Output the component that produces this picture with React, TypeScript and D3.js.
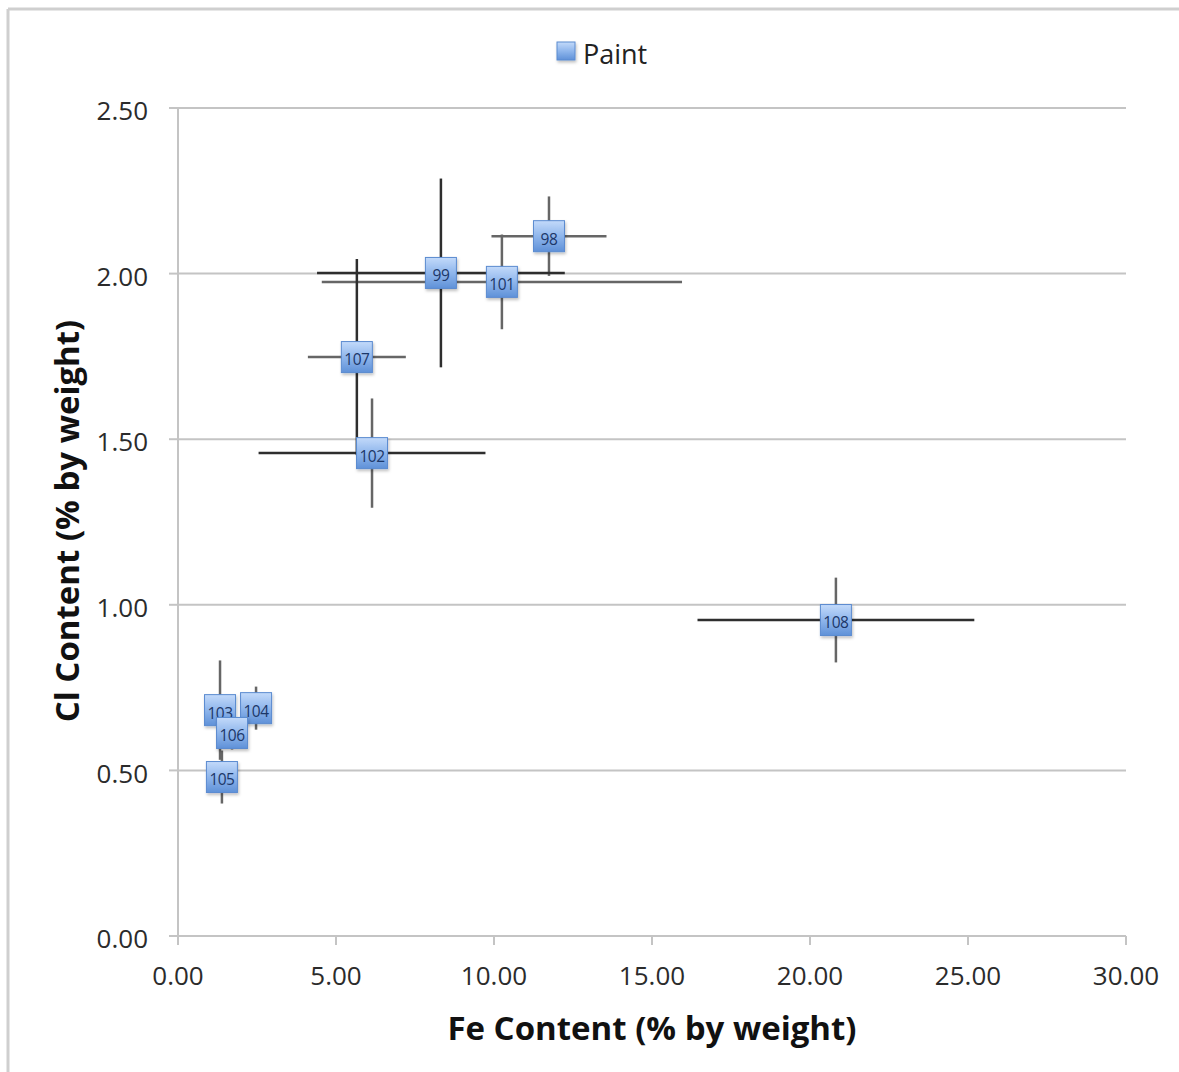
import React from "react";
import * as d3 from "d3";

const labels = ["98", "99", "101", "102", "103", "104", "105", "106", "107", "108"];
const feValues = [11.74, 8.32, 10.25, 6.14, 1.33, 2.47, 1.39, 1.71, 5.66, 20.82];
const clValues = [2.113, 2.002, 1.975, 1.458, 0.682, 0.688, 0.48, 0.613, 1.748, 0.954];
const feErrors = [1.82, 3.92, 5.7, 3.59, 0.3, 0.2, 0.3, 0.2, 1.55, 4.38];
const clErrors = [0.12, 0.285, 0.143, 0.165, 0.15, 0.065, 0.08, 0.05, 0.296, 0.128];
const xTicks = [0, 5, 10, 15, 20, 25, 30];
const yTicks = [0, 0.5, 1.0, 1.5, 2.0, 2.5];
const seriesName = "Paint";
const xTitle = "Fe Content (% by weight)";
const yTitle = "Cl Content (% by weight)";

// style: which bars are drawn darker
const darkX = new Set(["99", "102", "108"]);
const darkY = new Set(["99", "107"]);

const W = 1179;
const H = 1072;
const FONT = "'Open Sans', 'Noto Sans', sans-serif";

export default function App() {
  const x = d3.scaleLinear().domain([0, 30]).range([178, 1126]);
  const y = d3.scaleLinear().domain([0, 2.5]).range([936, 108]);
  const points = labels.map((l, i) => ({
    label: l,
    fe: feValues[i],
    cl: clValues[i],
    fe_e: feErrors[i],
    cl_e: clErrors[i],
  }));
  const ms = 31;
  const fmt = d3.format(".2f");
  return (
    <svg
      width={W}
      height={H}
      style={{ position: "absolute", left: 0, top: 0, background: "#fff" }}
      fontFamily={FONT}
    >
      <defs>
        <linearGradient id="mk" x1="0" y1="0" x2="0" y2="1">
          <stop offset="0" stopColor="#c3dafa" />
          <stop offset="0.5" stopColor="#8fb6ec" />
          <stop offset="1" stopColor="#5f91d8" />
        </linearGradient>
        <filter id="sh" x="-30%" y="-30%" width="160%" height="160%">
          <feDropShadow dx="1" dy="2" stdDeviation="1.5" floodColor="#000" floodOpacity="0.25" />
        </filter>
      </defs>
      {/* frame */}
      <line x1={8} y1={9} x2={W} y2={9} stroke="#cfcfcf" strokeWidth={3} />
      <line x1={8} y1={9} x2={8} y2={H} stroke="#cfcfcf" strokeWidth={3} />

      {/* gridlines */}
      {yTicks.filter((t) => t > 0).map((t) => (
        <line key={"g" + t} x1={178} x2={1126} y1={y(t)} y2={y(t)} stroke="#c4c4c4" strokeWidth={2} />
      ))}
      {/* axes */}
      <line x1={178} x2={178} y1={108} y2={936} stroke="#c4c4c4" strokeWidth={2} />
      <line x1={178} x2={1126} y1={936} y2={936} stroke="#c4c4c4" strokeWidth={2} />
      {yTicks.map((t) => (
        <g key={"yt" + t}>
          <line x1={169} x2={178} y1={y(t)} y2={y(t)} stroke="#c4c4c4" strokeWidth={2} />
          <text x={148} y={y(t) + 3} dy="0.35em" textAnchor="end" fontSize={26} fill="#2b2b2b">
            {fmt(t)}
          </text>
        </g>
      ))}
      {xTicks.map((t) => (
        <g key={"xt" + t}>
          <line x1={x(t)} x2={x(t)} y1={936} y2={945} stroke="#c4c4c4" strokeWidth={2} />
          <text x={x(t)} y={976} dy="0.35em" textAnchor="middle" fontSize={26} fill="#2b2b2b">
            {fmt(t)}
          </text>
        </g>
      ))}

      {/* error bars */}
      {points.map((p) => (
        <g key={"e" + p.label}>
          <line
            x1={x(p.fe - p.fe_e)}
            x2={x(p.fe + p.fe_e)}
            y1={y(p.cl)}
            y2={y(p.cl)}
            stroke={darkX.has(p.label) ? "#2e2e2e" : "#666"}
            strokeWidth={2.5}
          />
          <line
            x1={x(p.fe)}
            x2={x(p.fe)}
            y1={y(p.cl - p.cl_e)}
            y2={y(p.cl + p.cl_e)}
            stroke={darkY.has(p.label) ? "#2e2e2e" : "#666"}
            strokeWidth={2.5}
          />
        </g>
      ))}

      {/* markers */}
      {points.map((p) => (
        <g key={"m" + p.label}>
          <rect
            x={x(p.fe) - ms / 2}
            y={y(p.cl) - ms / 2}
            width={ms}
            height={ms}
            fill="url(#mk)"
            stroke="#5b8bd0"
            strokeWidth={1}
            filter="url(#sh)"
          />
          <text
            x={x(p.fe)}
            y={y(p.cl) + 3}
            dy="0.35em"
            textAnchor="middle"
            fontSize={15.5}
            letterSpacing={-0.5}
            fill="#1c3768"
          >
            {p.label}
          </text>
        </g>
      ))}

      {/* legend */}
      <rect x={557} y={42} width={18} height={18} fill="url(#mk)" stroke="#5b8bd0" strokeWidth={1} filter="url(#sh)" />
      <text x={583} y={55} dy="0.35em" fontSize={27} fill="#222">
        {seriesName}
      </text>

      {/* axis titles */}
      <text x={652} y={1028} dy="0.35em" textAnchor="middle" fontSize={33} fontWeight="bold" fill="#111">
        {xTitle}
      </text>
      <text
        transform={`translate(67,521) rotate(-90)`}
        dy="0.35em"
        textAnchor="middle"
        fontSize={33}
        fontWeight="bold"
        fill="#111"
      >
        {yTitle}
      </text>
    </svg>
  );
}
